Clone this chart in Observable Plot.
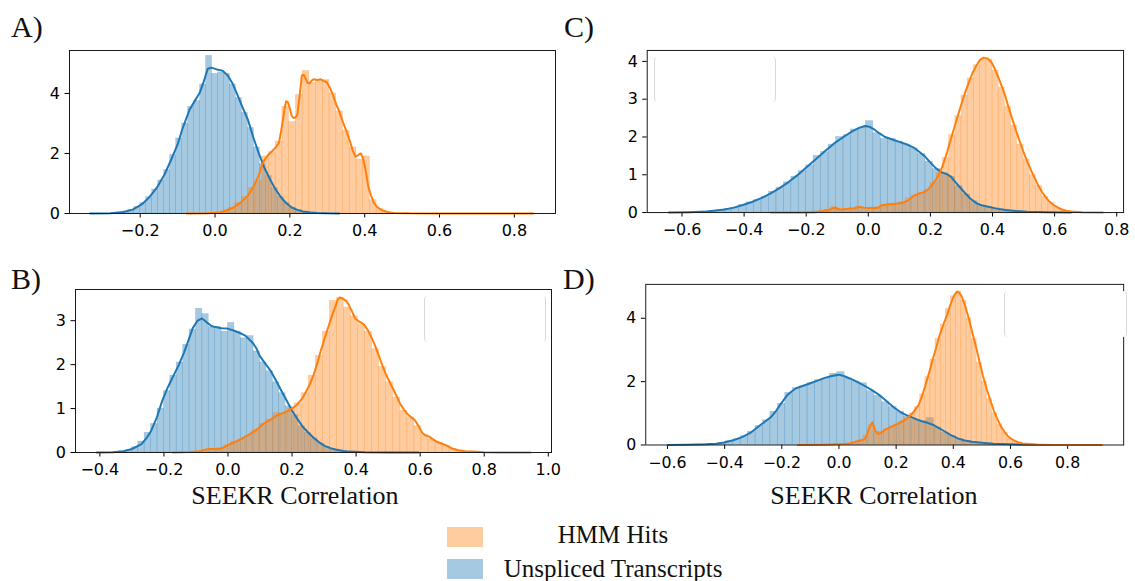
<!DOCTYPE html>
<html><head><meta charset="utf-8">
<script src="https://cdn.jsdelivr.net/npm/d3@7"></script>
<script src="https://cdn.jsdelivr.net/npm/@observablehq/plot@0.6"></script>
<style>
body{margin:0;background:#fff;}
#wrap{position:relative;width:1135px;height:581px;overflow:hidden;background:#fff;}
.pan{position:absolute;}
.lbox{position:absolute;border-left:1px solid #d9d9d9;border-right:1px solid #d9d9d9;border-radius:4px;background:#fff;}
#txt{position:absolute;left:0;top:0;}
</style></head><body>
<div id="wrap"></div>
<script>
// ---------- data ----------
const series = ["HMM Hits", "Unspliced Transcripts"];
const colorBlue = "#1f77b4", colorOrange = "#ff7f0e";

// Panel A
const aBlueStart = -0.264, aBlueW = 0.016;
const aBlueH = [0.03,0.07,0.13,0.22,0.35,0.55,0.8,1.1,1.45,1.95,2.5,3.0,3.55,3.75,4.3,5.25,4.65,4.7,4.65,4.3,3.85,3.35,2.85,2.2,1.65,1.25,0.85,0.55,0.35,0.2,0.12,0.07,0.04,0.02];
const aOrangeStart = 0.0, aOrangeW = 0.018;
const aOrangeH = [0.03,0.08,0.18,0.35,0.55,0.85,1.1,1.9,2.05,2.4,3.55,3.05,3.95,4.75,4.35,4.45,4.45,4.0,3.4,2.75,2.2,1.8,1.9,0.45,0.15,0.05,0.02];
const aBlueKde = [[-0.334,0],[-0.28,0.01],[-0.244,0.05],[-0.22,0.13],[-0.195,0.31],[-0.175,0.55],[-0.156,0.85],[-0.135,1.3],[-0.117,1.8],[-0.1,2.3],[-0.088,2.79],[-0.068,3.46],[-0.041,4.02],[-0.03,4.4],[-0.0195,4.82],[-0.01,4.86],[0.005,4.8],[0.0195,4.76],[0.034,4.6],[0.046,4.35],[0.0585,3.99],[0.073,3.55],[0.088,3.12],[0.102,2.55],[0.117,2.0],[0.131,1.55],[0.146,1.16],[0.161,0.82],[0.176,0.54],[0.19,0.35],[0.205,0.2],[0.22,0.12],[0.234,0.07],[0.255,0.035],[0.273,0.02],[0.3,0.005],[0.332,0]];
const aOrangeKde = [[-0.076,0],[-0.02,0.005],[0.01,0.03],[0.03,0.1],[0.049,0.2],[0.07,0.38],[0.088,0.6],[0.103,0.9],[0.117,1.27],[0.125,1.6],[0.132,1.78],[0.142,1.95],[0.151,2.06],[0.162,2.2],[0.171,2.36],[0.176,2.7],[0.18,3.0],[0.186,3.5],[0.19,3.74],[0.195,3.7],[0.2,3.5],[0.205,3.25],[0.21,3.18],[0.215,3.2],[0.22,3.29],[0.226,3.9],[0.232,4.6],[0.237,4.62],[0.242,4.5],[0.247,4.35],[0.252,4.33],[0.258,4.42],[0.263,4.47],[0.273,4.45],[0.283,4.47],[0.29,4.42],[0.298,4.38],[0.307,4.19],[0.315,3.95],[0.322,3.69],[0.332,3.4],[0.341,3.07],[0.351,2.75],[0.361,2.39],[0.368,2.1],[0.376,1.89],[0.383,1.95],[0.39,2.0],[0.395,1.85],[0.4,1.6],[0.405,1.25],[0.41,0.88],[0.417,0.6],[0.424,0.37],[0.433,0.22],[0.444,0.12],[0.46,0.05],[0.478,0.02],[0.52,0.005],[0.6,0],[0.851,0]];
const aXTicks = [-0.2,0,0.2,0.4,0.6,0.8];
const aYTicks = [0,2,4];

// Panel B
const bBlueStart = -0.34, bBlueW = 0.02;
const bBlueH = [0.03,0.06,0.12,0.25,0.45,0.65,1.0,1.4,1.75,2.05,2.45,2.8,3.27,3.15,2.85,2.85,2.75,2.95,2.75,2.6,2.65,2.3,2.05,1.85,1.6,1.35,1.05,0.85,0.6,0.45,0.32,0.2,0.12,0.07,0.04,0.02];
const bOrangeStart = -0.1, bOrangeW = 0.022;
const bOrangeH = [0.03,0.06,0.08,0.1,0.17,0.25,0.3,0.38,0.5,0.65,0.75,0.9,0.88,1.0,1.12,1.35,1.75,2.2,2.75,3.45,3.52,3.3,3.1,2.92,2.75,2.35,1.95,1.6,1.25,0.95,0.8,0.6,0.4,0.3,0.22,0.15,0.08,0.05,0.02];
const bBlueKde = [[-0.41,0],[-0.36,0.005],[-0.33,0.02],[-0.3,0.08],[-0.27,0.19],[-0.255,0.32],[-0.24,0.49],[-0.222,0.8],[-0.205,1.18],[-0.188,1.48],[-0.17,1.75],[-0.153,2.0],[-0.137,2.28],[-0.122,2.58],[-0.11,2.83],[-0.095,3.0],[-0.081,3.05],[-0.072,3.0],[-0.064,2.95],[-0.052,2.88],[-0.042,2.86],[-0.02,2.83],[-0.002,2.82],[0.02,2.77],[0.037,2.72],[0.054,2.66],[0.077,2.5],[0.088,2.38],[0.099,2.2],[0.116,2.03],[0.133,1.86],[0.15,1.64],[0.167,1.4],[0.184,1.17],[0.2,0.95],[0.217,0.76],[0.234,0.58],[0.251,0.45],[0.268,0.33],[0.285,0.23],[0.302,0.15],[0.32,0.1],[0.336,0.07],[0.36,0.035],[0.38,0.02],[0.426,0.005],[0.5,0],[0.595,0]];
const bOrangeKde = [[-0.171,0],[-0.12,0.01],[-0.092,0.02],[-0.075,0.06],[-0.059,0.08],[-0.04,0.08],[-0.025,0.08],[-0.01,0.13],[0.009,0.2],[0.035,0.28],[0.065,0.4],[0.09,0.52],[0.11,0.65],[0.133,0.75],[0.155,0.85],[0.172,0.9],[0.189,0.95],[0.203,1.02],[0.217,1.1],[0.231,1.22],[0.245,1.4],[0.257,1.58],[0.268,1.78],[0.279,2.04],[0.29,2.32],[0.301,2.58],[0.313,2.85],[0.325,3.12],[0.336,3.34],[0.343,3.48],[0.349,3.53],[0.359,3.5],[0.369,3.45],[0.378,3.35],[0.386,3.23],[0.397,3.05],[0.409,2.98],[0.418,2.95],[0.426,2.9],[0.437,2.78],[0.448,2.62],[0.46,2.42],[0.471,2.2],[0.482,1.98],[0.493,1.78],[0.505,1.6],[0.516,1.44],[0.527,1.27],[0.538,1.1],[0.55,0.97],[0.561,0.87],[0.572,0.8],[0.583,0.74],[0.595,0.6],[0.606,0.45],[0.617,0.39],[0.628,0.36],[0.64,0.3],[0.65,0.25],[0.668,0.2],[0.685,0.15],[0.7,0.09],[0.718,0.05],[0.74,0.03],[0.764,0.02],[0.8,0.005],[0.85,0],[0.944,0]];
const bXTicks = [-0.4,-0.2,0,0.2,0.4,0.6,0.8,1.0];
const bYTicks = [0,1,2,3];

// Panel C
const cBlueStart = -0.56, cBlueW = 0.024;
const cBlueH = [0.02,0.03,0.04,0.06,0.1,0.13,0.2,0.27,0.33,0.42,0.55,0.66,0.8,0.95,1.1,1.25,1.5,1.6,1.8,2.0,2.05,2.2,2.25,2.42,2.1,1.95,1.95,1.88,1.8,1.7,1.55,1.35,1.15,1.05,0.95,0.7,0.48,0.3,0.2,0.15,0.11,0.08,0.05,0.03,0.02];
const cOrangeStart = -0.2, cOrangeW = 0.02;
const cOrangeH = [0.02,0.03,0.05,0.08,0.15,0.08,0.1,0.12,0.16,0.12,0.12,0.14,0.2,0.22,0.24,0.28,0.38,0.45,0.52,0.6,0.78,1.05,1.45,2.05,2.55,3.1,3.55,3.9,4.05,4.05,3.75,3.3,2.8,2.3,1.8,1.4,1.0,0.7,0.42,0.25,0.12,0.06,0.03];
const cBlueKde = [[-0.642,0],[-0.58,0.01],[-0.52,0.03],[-0.463,0.08],[-0.433,0.13],[-0.404,0.2],[-0.375,0.28],[-0.345,0.38],[-0.316,0.5],[-0.287,0.64],[-0.258,0.8],[-0.228,0.99],[-0.2,1.19],[-0.169,1.41],[-0.14,1.62],[-0.11,1.83],[-0.08,2.0],[-0.052,2.15],[-0.03,2.24],[-0.011,2.29],[0.004,2.27],[0.019,2.2],[0.035,2.1],[0.054,2.0],[0.075,1.94],[0.1,1.87],[0.125,1.8],[0.148,1.71],[0.165,1.6],[0.183,1.48],[0.2,1.32],[0.218,1.17],[0.235,1.07],[0.254,1.01],[0.266,0.95],[0.277,0.84],[0.295,0.67],[0.312,0.51],[0.33,0.36],[0.348,0.25],[0.365,0.19],[0.383,0.16],[0.41,0.11],[0.442,0.07],[0.475,0.04],[0.512,0.02],[0.58,0.005],[0.653,0]];
const cOrangeKde = [[-0.314,0],[-0.2,0.003],[-0.169,0.01],[-0.155,0.03],[-0.145,0.04],[-0.125,0.07],[-0.112,0.12],[-0.104,0.12],[-0.095,0.09],[-0.087,0.08],[-0.075,0.09],[-0.063,0.1],[-0.045,0.11],[-0.028,0.15],[-0.015,0.13],[-0.005,0.12],[0.015,0.12],[0.031,0.13],[0.04,0.17],[0.048,0.2],[0.07,0.22],[0.09,0.23],[0.113,0.26],[0.13,0.33],[0.148,0.45],[0.165,0.5],[0.183,0.55],[0.195,0.63],[0.207,0.75],[0.218,0.88],[0.23,1.04],[0.242,1.3],[0.254,1.61],[0.265,1.92],[0.277,2.25],[0.289,2.58],[0.301,2.9],[0.312,3.18],[0.324,3.45],[0.336,3.7],[0.348,3.89],[0.36,4.04],[0.371,4.1],[0.383,4.08],[0.395,4.0],[0.406,3.83],[0.418,3.59],[0.43,3.34],[0.442,3.06],[0.453,2.75],[0.465,2.44],[0.477,2.14],[0.489,1.85],[0.5,1.6],[0.512,1.35],[0.524,1.12],[0.536,0.91],[0.547,0.72],[0.559,0.55],[0.571,0.41],[0.583,0.29],[0.6,0.18],[0.618,0.1],[0.635,0.05],[0.653,0.03],[0.69,0.01],[0.755,0]];
const cXTicks = [-0.6,-0.4,-0.2,0,0.2,0.4,0.6,0.8];
const cYTicks = [0,1,2,3,4];

// Panel D
const dBlueStart = -0.5, dBlueW = 0.026;
const dBlueH = [0.01,0.02,0.04,0.07,0.12,0.18,0.28,0.42,0.6,0.78,1.05,1.3,1.65,1.8,1.85,1.95,2.05,2.1,2.25,2.3,2.1,2.0,1.95,1.7,1.55,1.35,1.2,1.05,0.9,0.8,0.75,0.85,0.55,0.4,0.28,0.18,0.12,0.08,0.05,0.03,0.02];
const dOrangeStart = -0.04, dOrangeW = 0.018;
const dOrangeH = [0.01,0.02,0.03,0.04,0.06,0.1,0.15,0.3,0.62,0.42,0.42,0.5,0.58,0.65,0.75,0.85,1.0,1.2,1.6,2.15,2.7,3.35,3.8,4.3,4.7,4.85,4.55,4.0,3.35,2.6,2.0,1.45,1.0,0.65,0.4,0.2,0.1,0.06,0.03];
const dBlueKde = [[-0.6,0],[-0.53,0.005],[-0.465,0.02],[-0.43,0.04],[-0.402,0.08],[-0.37,0.15],[-0.339,0.25],[-0.307,0.4],[-0.276,0.62],[-0.257,0.75],[-0.238,0.88],[-0.222,1.05],[-0.207,1.25],[-0.195,1.4],[-0.182,1.56],[-0.166,1.69],[-0.15,1.79],[-0.125,1.87],[-0.1,1.95],[-0.075,2.03],[-0.05,2.12],[-0.025,2.18],[0.0,2.22],[0.019,2.17],[0.038,2.1],[0.064,1.99],[0.089,1.87],[0.114,1.74],[0.139,1.59],[0.158,1.45],[0.177,1.3],[0.196,1.16],[0.215,1.04],[0.234,0.95],[0.253,0.88],[0.272,0.81],[0.29,0.75],[0.31,0.7],[0.328,0.64],[0.347,0.55],[0.366,0.45],[0.39,0.32],[0.416,0.21],[0.44,0.14],[0.466,0.1],[0.5,0.07],[0.542,0.04],[0.6,0.02],[0.668,0.01],[0.75,0]];
const dOrangeKde = [[-0.144,0],[-0.05,0.01],[-0.012,0.02],[0.015,0.03],[0.038,0.05],[0.05,0.08],[0.064,0.12],[0.078,0.15],[0.089,0.18],[0.097,0.3],[0.104,0.5],[0.11,0.62],[0.117,0.72],[0.122,0.6],[0.127,0.45],[0.133,0.38],[0.139,0.35],[0.15,0.4],[0.165,0.5],[0.183,0.57],[0.202,0.65],[0.221,0.74],[0.24,0.85],[0.259,1.02],[0.278,1.25],[0.291,1.55],[0.303,1.9],[0.316,2.3],[0.328,2.7],[0.341,3.1],[0.353,3.49],[0.366,3.82],[0.378,4.1],[0.388,4.38],[0.397,4.6],[0.405,4.75],[0.414,4.84],[0.421,4.8],[0.429,4.7],[0.441,4.4],[0.454,4.0],[0.466,3.57],[0.479,3.12],[0.491,2.65],[0.504,2.18],[0.517,1.76],[0.53,1.4],[0.542,1.08],[0.555,0.8],[0.567,0.58],[0.58,0.4],[0.592,0.27],[0.605,0.18],[0.624,0.1],[0.643,0.05],[0.693,0.01],[0.75,0.003],[0.92,0]];
const dXTicks = [-0.6,-0.4,-0.2,0,0.2,0.4,0.6,0.8];
const dYTicks = [0,2,4];

const panelLabels = ["A)", "B)", "C)", "D)"];
const xLabel = "SEEKR Correlation";

// ---------- layout ----------
const M = {l: 52, t: 8, r: 12, b: 34};
const wrap = document.getElementById("wrap");

function bars(start, w, hs) {
  return hs.map((h, i) => ({x1: start + i * w, x2: start + (i + 1) * w, y: h}));
}

function panel(o) {
  const chart = Plot.plot({
    width: o.fw + M.l + M.r,
    height: o.fh + M.t + M.b,
    marginLeft: M.l, marginRight: M.r, marginTop: M.t, marginBottom: M.b,
    style: {fontFamily: "'DejaVu Sans', sans-serif", fontSize: "16px", color: "#000", background: "none", overflow: "visible"},
    x: {domain: o.xd, ticks: o.xt, tickFormat: d3.format(".1f"), label: null, tickSize: 4.5, tickPadding: 7},
    y: {domain: o.yd, ticks: o.yt, tickFormat: d3.format("d"), label: null, tickSize: 4.5, tickPadding: 5},
    marks: [
      Plot.rectY(bars(o.bs, o.bw, o.bh), {x1: "x1", x2: "x2", y: "y", fill: colorBlue, fillOpacity: 0.4, stroke: colorBlue, strokeOpacity: 0.25, strokeWidth: 0.6, inset: 0}),
      Plot.rectY(bars(o.os, o.ow, o.oh), {x1: "x1", x2: "x2", y: "y", fill: colorOrange, fillOpacity: 0.4, stroke: colorOrange, strokeOpacity: 0.25, strokeWidth: 0.6, inset: 0}),
      Plot.line(o.bk, {x: d => d[0], y: d => d[1], stroke: colorBlue, strokeWidth: 2}),
      Plot.line(o.ok, {x: d => d[0], y: d => d[1], stroke: colorOrange, strokeWidth: 2}),
      Plot.frame({stroke: "#1a1a1a", strokeWidth: 1})
    ]
  });
  const div = document.createElement("div");
  div.className = "pan";
  div.style.left = (o.left - M.l) + "px";
  div.style.top = (o.top - M.t) + "px";
  div.appendChild(chart);
  wrap.appendChild(div);
}

panel({left: 69, top: 50, fw: 486, fh: 163, xd: [-0.389, 0.91], yd: [0, 5.43], xt: aXTicks, yt: aYTicks,
  bs: aBlueStart, bw: aBlueW, bh: aBlueH, os: aOrangeStart, ow: aOrangeW, oh: aOrangeH, bk: aBlueKde, ok: aOrangeKde});
panel({left: 75, top: 289, fw: 476, fh: 163, xd: [-0.476, 1.01], yd: [0, 3.71], xt: bXTicks, yt: bYTicks,
  bs: bBlueStart, bw: bBlueW, bh: bBlueH, os: bOrangeStart, ow: bOrangeW, oh: bOrangeH, bk: bBlueKde, ok: bOrangeKde});
panel({left: 647, top: 50, fw: 479, fh: 163, xd: [-0.712, 0.822], yd: [0, 4.29], xt: cXTicks, yt: cYTicks,
  bs: cBlueStart, bw: cBlueW, bh: cBlueH, os: cOrangeStart, ow: cOrangeW, oh: cOrangeH, bk: cBlueKde, ok: cOrangeKde});
panel({left: 646, top: 284, fw: 485, fh: 163, xd: [-0.676, 0.996], yd: [0, 5.07], xt: dXTicks, yt: dYTicks,
  bs: dBlueStart, bw: dBlueW, bh: dBlueH, os: dOrangeStart, ow: dOrangeW, oh: dOrangeH, bk: dBlueKde, ok: dOrangeKde});

// empty legend frames inside panels B, C, D
[[654, 57, 120, 45], [424, 296, 120, 46], [1004, 291, 121, 46]].forEach(([l, t, w, h]) => {
  const b = document.createElement("div");
  b.className = "lbox";
  b.style.left = l + "px"; b.style.top = t + "px"; b.style.width = w + "px"; b.style.height = h + "px";
  wrap.appendChild(b);
});

// text overlay: panel letters, axis labels, legend
const ns = "http://www.w3.org/2000/svg";
const svg = document.createElementNS(ns, "svg");
svg.setAttribute("id", "txt");
svg.setAttribute("width", 1135); svg.setAttribute("height", 581);
svg.style.pointerEvents = "none";
function txt(x, y, s, size, anchor) {
  const t = document.createElementNS(ns, "text");
  t.setAttribute("x", x); t.setAttribute("y", y);
  t.setAttribute("font-family", "'Liberation Serif', 'DejaVu Serif', serif");
  t.setAttribute("font-size", size);
  t.setAttribute("text-anchor", anchor || "start");
  t.setAttribute("fill", "#111");
  t.textContent = s;
  svg.appendChild(t);
}
txt(11, 37, panelLabels[0], 30);
txt(11, 289, panelLabels[1], 30);
txt(564, 37, panelLabels[2], 30);
txt(563, 289, panelLabels[3], 30);
txt(295, 504, xLabel, 26, "middle");
txt(874, 504, xLabel, 26, "middle");
// legend
const legColors = ["rgb(255,204,159)", "rgb(165,201,225)"];
[[527, 543], [559, 577]].forEach(([ry, by], i) => {
  const r = document.createElementNS(ns, "rect");
  r.setAttribute("x", 447); r.setAttribute("y", ry); r.setAttribute("width", 36); r.setAttribute("height", 20);
  r.setAttribute("fill", legColors[i]);
  svg.appendChild(r);
  txt(613, by, series[i], 25, "middle");
});
wrap.appendChild(svg);
</script>
</body></html>
